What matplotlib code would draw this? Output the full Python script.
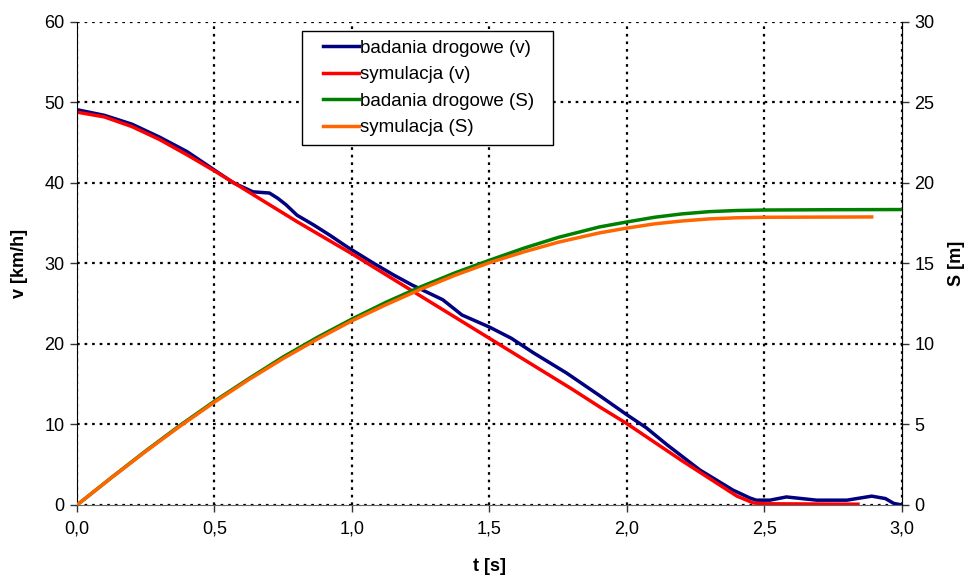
import matplotlib.pyplot as plt
from matplotlib.ticker import FuncFormatter
from matplotlib.legend_handler import HandlerLine2D

plt.rcParams["font.family"] = ["Liberation Sans", "DejaVu Sans"]

# speed, road test (v)
t_v_road = [0, 0.1, 0.2, 0.3, 0.4, 0.5, 0.57, 0.64, 0.70, 0.73, 0.76, 0.80, 0.86,
            0.92, 0.985, 1.08, 1.15, 1.22, 1.33, 1.40, 1.50, 1.58, 1.66, 1.78, 1.90,
            2.0, 2.07, 2.145, 2.265, 2.385, 2.447, 2.47, 2.52, 2.58, 2.69, 2.80, 2.89,
            2.94, 2.97, 3.0]
v_road = [49.1, 48.4, 47.3, 45.7, 43.9, 41.6, 40.0, 38.9, 38.75, 38.1, 37.3, 36.0, 34.8,
          33.5, 32.0, 30.0, 28.6, 27.3, 25.5, 23.6, 22.1, 20.7, 18.9, 16.4, 13.6,
          11.2, 9.6, 7.5, 4.35, 1.86, 0.87, 0.6, 0.6, 1.0, 0.6, 0.6, 1.1,
          0.8, 0.2, 0.0]

# speed, simulation (v)
t_v_sim = [0, 0.1, 0.2, 0.3, 0.4, 0.5, 0.6, 0.7, 0.8, 0.9, 1.0, 1.1, 1.2, 1.3,
           1.4, 1.5, 1.6, 1.7, 1.8, 1.9, 2.0, 2.1, 2.2, 2.3, 2.4, 2.46, 2.5, 2.84]
v_sim = [48.8, 48.2, 47.0, 45.4, 43.5, 41.5, 39.4, 37.3, 35.2, 33.2, 31.2, 29.1,
         27.0, 24.9, 22.8, 20.7, 18.6, 16.5, 14.4, 12.2, 10.1, 7.8, 5.5, 3.3, 1.1,
         0.25, 0.15, 0.1]

# distance, road test (S)
t_s_road = [0, 0.125, 0.25, 0.375, 0.5, 0.625, 0.75, 0.875, 1.0, 1.125, 1.25, 1.375,
            1.5, 1.625, 1.75, 1.9, 2.0, 2.1, 2.2, 2.3, 2.4, 2.5, 2.75, 3.0]
s_road = [0, 1.7, 3.36, 4.95, 6.45, 7.85, 9.2, 10.42, 11.55, 12.6, 13.55, 14.42,
          15.2, 15.95, 16.62, 17.27, 17.58, 17.87, 18.08, 18.22, 18.29, 18.32, 18.34, 18.35]

# distance, simulation (S)
t_s_sim = [0, 0.125, 0.25, 0.375, 0.5, 0.625, 0.75, 0.875, 1.0, 1.125, 1.25, 1.375,
           1.5, 1.625, 1.75, 1.9, 2.0, 2.1, 2.2, 2.3, 2.4, 2.5, 2.89]
s_sim = [0, 1.69, 3.33, 4.9, 6.39, 7.79, 9.1, 10.31, 11.44, 12.45, 13.4, 14.27,
         15.05, 15.72, 16.32, 16.9, 17.2, 17.46, 17.64, 17.77, 17.84, 17.87, 17.89]

x_ticks = [0, 0.5, 1.0, 1.5, 2.0, 2.5, 3.0]
v_ticks = [0, 10, 20, 30, 40, 50, 60]
s_ticks = [0, 5, 10, 15, 20, 25, 30]

fig = plt.figure(figsize=(9.66, 5.78), dpi=100)
ax = fig.add_axes([0.0797, 0.1263, 0.854, 0.8357])
ax2 = ax.twinx()

lw = 2.5
l1, = ax.plot(t_v_road, v_road, color="#000080", lw=lw, label="badania drogowe (v)")
l2, = ax.plot(t_v_sim, v_sim, color="#FF0000", lw=lw, label="symulacja (v)")
l3, = ax2.plot(t_s_road, s_road, color="#008000", lw=lw, label="badania drogowe (S)")
l4, = ax2.plot(t_s_sim, s_sim, color="#FF6600", lw=lw, label="symulacja (S)")

ax.set_xlim(0, 3.0)
ax.set_ylim(0, 60)
ax2.set_ylim(0, 30)
ax.set_xticks(x_ticks)
ax.set_yticks(v_ticks)
ax2.set_yticks(s_ticks)
ax.xaxis.set_major_formatter(FuncFormatter(lambda x, p: f"{x:.1f}".replace(".", ",")))

ax.grid(True, color="black", linestyle=(0, (1.2, 2.2)), lw=1.6)

for a in (ax, ax2):
    a.spines["top"].set_visible(False)
    a.tick_params(labelsize=13, length=5, width=1, direction="out", colors="#333333",
                  labelcolor="black")
ax.spines["bottom"].set_color("#666666")
ax.spines["left"].set_color("black")
ax2.spines["right"].set_color("black")
ax2.spines["left"].set_visible(False)
ax2.spines["bottom"].set_visible(False)
ax.tick_params(axis="x", pad=6)
ax.tick_params(axis="y", pad=4)
ax2.tick_params(axis="y", pad=4)

ax.set_xlabel("t [s]", fontsize=13, fontweight="bold", labelpad=15)
ax.set_ylabel("v [km/h]", fontsize=13, fontweight="bold", labelpad=12)
ax2.set_ylabel("S [m]", fontsize=13, fontweight="bold", labelpad=10)

# legend: short line handles with a gap on the left, like the original
hmap = {h: HandlerLine2D(xpad=0.65) for h in (l1, l2, l3, l4)}
labels = [h.get_label() + "  " for h in (l1, l2, l3, l4)]
leg = ax2.legend([l1, l2, l3, l4], labels, handler_map=hmap, loc="upper left",
                 bbox_to_anchor=(0.2727, 0.981), borderaxespad=0, fontsize=13.5,
                 fancybox=False, framealpha=1, edgecolor="black",
                 handlelength=2.6, handletextpad=0.05, labelspacing=0.5,
                 borderpad=0.45)
leg.get_frame().set_linewidth(1.0)

fig.savefig("out.png", dpi=100)
